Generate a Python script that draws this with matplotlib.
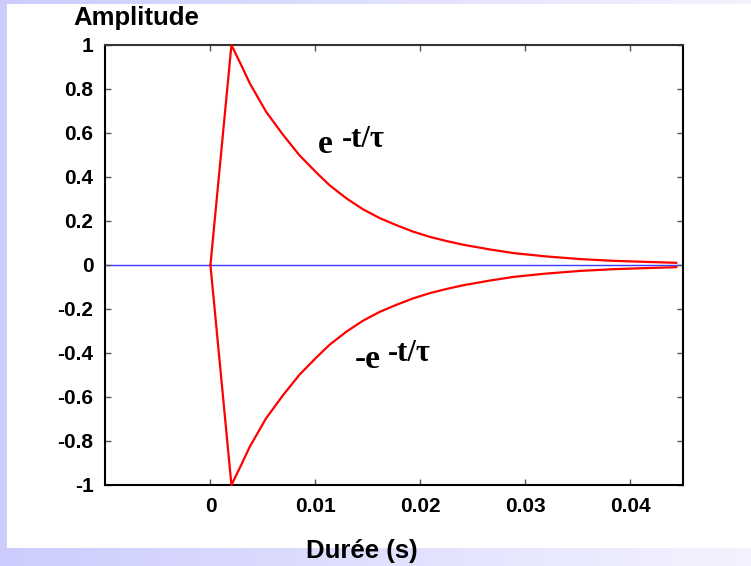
import numpy as np
import matplotlib
matplotlib.use('Agg')
import matplotlib.pyplot as plt
from matplotlib.colors import LinearSegmentedColormap

t = [0, 0.002, 0.0029, 0.00375, 0.0053, 0.0069, 0.0085, 0.0101, 0.01137,
     0.01296, 0.01455, 0.01614, 0.01773, 0.0193, 0.0209, 0.0225, 0.0241,
     0.0266, 0.0289, 0.032, 0.0352, 0.0384, 0.0416, 0.0444]
env_pos = [0, 1.0, 0.912, 0.826, 0.697, 0.593, 0.498, 0.420, 0.362,
           0.303, 0.253, 0.213, 0.181, 0.152, 0.128, 0.109, 0.092,
           0.071, 0.054, 0.039, 0.027, 0.019, 0.014, 0.010]
env_neg = [-a for a in env_pos]

xticks = [0, 0.01, 0.02, 0.03, 0.04]
xtick_labels = ['0', '0.01', '0.02', '0.03', '0.04']
yticks = [1, 0.8, 0.6, 0.4, 0.2, 0, -0.2, -0.4, -0.6, -0.8, -1]
ytick_labels = ['1', '0.8', '0.6', '0.4', '0.2', '0', '-0.2', '-0.4', '-0.6', '-0.8', '-1']

plt.rcParams['font.family'] = ['Liberation Sans', 'DejaVu Sans']

W, H = 751, 566
fig = plt.figure(figsize=(W / 100, H / 100), dpi=100)
fig.patch.set_facecolor('white')

# bandeaux de fond (gauche, haut, bas en dégradé)
lav = LinearSegmentedColormap.from_list('lav', ['#ccccff', '#f3f3fe'])
bg_bottom = fig.add_axes([0, 0, 1, 18 / H], zorder=-5)
bg_bottom.imshow(np.linspace(0, 1, 256)[None, :], cmap=lav, aspect='auto',
                 extent=[0, 1, 0, 1])
bg_bottom.axis('off')
bg_top = fig.add_axes([0, 1 - 4 / H, 1, 4 / H], zorder=-5)
bg_top.imshow(np.linspace(0.15, 0.9, 256)[None, :], cmap=lav, aspect='auto',
              extent=[0, 1, 0, 1])
bg_top.axis('off')
bg_left = fig.add_axes([0, 18 / H, 7 / W, 1 - 22 / H], zorder=-5)
bg_left.set_facecolor('#ccccff')
bg_left.set_xticks([])
bg_left.set_yticks([])
for s in bg_left.spines.values():
    s.set_visible(False)

ax = fig.add_axes([104.5 / W, 81 / H, 578 / W, 440 / H])
ax.set_facecolor('white')

ax.axhline(0, color='#3c3cff', lw=1.0, zorder=1)
ax.plot(t, env_pos, color='#ff0000', lw=1.6, clip_on=False, zorder=3)
ax.plot(t, env_neg, color='#ff0000', lw=1.6, clip_on=False, zorder=3)

ax.set_xlim(-0.0101, 0.045)
ax.set_ylim(-1, 1)

ax.set_xticks(xticks)
ax.set_xticklabels(xtick_labels, fontsize=15, fontweight='bold')
ax.set_yticks(yticks)
ax.set_yticklabels(ytick_labels, fontsize=15, fontweight='bold')
ax.tick_params(direction='in', length=4, width=1, color='#555555',
               top=True, right=True)
ax.tick_params(axis='x', pad=9)
ax.tick_params(axis='y', pad=8)
for s in ax.spines.values():
    s.set_linewidth(1.5)
    s.set_color('black')
ax.spines['top'].set_color('#333333')

# étiquettes des enveloppes
serif = ['Liberation Serif', 'DejaVu Serif']
ax.text(0.0102, 0.507, 'e', family=serif, fontsize=24, fontweight='bold',
        va='baseline')
ax.text(0.0125, 0.537, '-t/τ', family=serif, fontsize=22, fontweight='bold',
        va='baseline')
ax.text(0.01375, -0.468, '-e', family=serif, fontsize=24, fontweight='bold',
        va='baseline')
ax.text(0.0169, -0.438, '-t/τ', family=serif, fontsize=22, fontweight='bold',
        va='baseline')

fig.text(136 / W, 1 - 18 / H, 'Amplitude', fontsize=18.5, fontweight='bold',
         ha='center', va='center')
fig.text(362 / W, 1 - 551 / H, 'Durée (s)', fontsize=18.5, fontweight='bold',
         ha='center', va='center')

fig.savefig('out.png', dpi=100)
